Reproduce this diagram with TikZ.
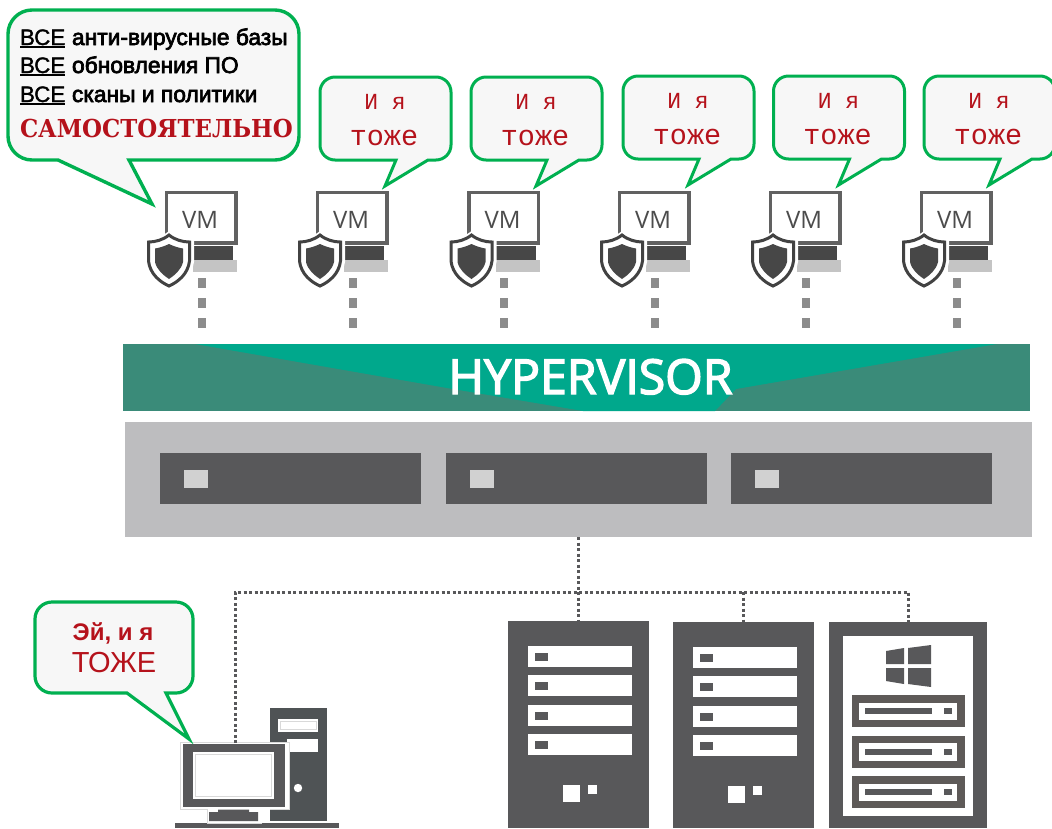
\documentclass[tikz,border=0pt]{standalone}
\usepackage{fontspec}
\setmainfont{Liberation Sans}
\newfontfamily\monof{Liberation Mono}
\newfontfamily\slabf{DejaVu Serif}
\newfontfamily\opens{Open Sans}
\newfontfamily\openb[FakeBold=3]{Open Sans}
\newfontfamily\semib[FakeBold=3]{Liberation Sans}
\newfontfamily\semia[FakeBold=1.5]{Liberation Sans}
\definecolor{bgreen}{HTML}{00B050}
\definecolor{bfill}{HTML}{F7F7F7}
\definecolor{bred}{HTML}{B5121B}
\definecolor{dgrey}{HTML}{58585A}
\definecolor{teal}{HTML}{00A88C}
\definecolor{dteal}{HTML}{3A8B79}
\definecolor{chas}{HTML}{BDBDBF}
\definecolor{rack}{HTML}{5E5A58}
\definecolor{towr}{HTML}{4F5355}
\newcommand\bubblepath[9]{%
 (#9,#4) -- ({#1+#5},#4) .. controls ({#1+.45*#5},#4) and (#1,{#4-.45*#5}) .. (#1,{#4-#5})
 -- (#1,{#2+#5}) .. controls (#1,{#2+.45*#5}) and ({#1+.45*#5},#2) .. ({#1+#5},#2)
 -- ({#3-#5},#2) .. controls ({#3-.45*#5},#2) and (#3,{#2+.45*#5}) .. (#3,{#2+#5})
 -- (#3,{#4-#5}) .. controls (#3,{#4-.45*#5}) and ({#3-.45*#5},#4) .. ({#3-#5},#4)
 -- (#6,#4) -- (#7,#8) -- cycle}
\tikzset{
  x=1pt,y=-1pt,
  bubble/.style={draw=bgreen,fill=bfill,line width=3pt,line join=miter},
  txt/.style={anchor=base,inner sep=0pt,outer sep=0pt},
  txtw/.style={anchor=base west,inner sep=0pt,outer sep=0pt},
  link/.style={draw=dgrey,line width=3pt,dash pattern=on 3pt off 2.5pt},
  vmlink/.style={draw=black!45,line width=8pt,dash pattern=on 10pt off 10pt},
  block/.style={draw=none,inner sep=0pt,outer sep=0pt,anchor=north west},
}
\begin{document}
\begin{tikzpicture}
\useasboundingbox (0,0) rectangle (1052,828);
\clip (0,0) rectangle (1052,828);
\fill[white] (0,0) rectangle (1052,828);

% hypervisor
\node[block,fill=dteal,minimum width=907pt,minimum height=67pt] (hyp) at (123,344) {};
\fill[teal] (195,344) -- (997,344) -- (736,389) -- (715,411) -- (583,411) -- (447,388) -- cycle;
\node[txt,text=white] (hyptext) at (590.5,394) {\fontsize{48.2}{49}\openb HYPERVISOR};

% chassis
\node[block,fill=chas,minimum width=907pt,minimum height=115pt] (chassis) at (125,422) {};
\foreach \i/\x in {1/160,2/446,3/731}{
  \node[block,fill=dgrey,minimum width=261pt,minimum height=51pt] (slot\i) at (\x,453) {};
  \fill[black!18] (\x+24,470) rectangle (\x+48,488);
}

% virtual machines
\foreach \i/\d in {1/0,2/151,3/302.5,4/453,5/604,6/755}{
\begin{scope}[shift={(\d,0)}]
  \draw[black!62,line width=3.6pt] (166.5,234) -- (166.5,192.5) -- (236,192.5) -- (236,243) -- (190,243);
  \node[txt,text=black!70] (vm\i) at (200,228) {\fontsize{24}{24}\opens VM};
  \fill[black!72] (193,246) rectangle (233,260);
  \fill[black!23] (193,260) rectangle (237,272);
  \fill[white] (169,231) .. controls (162,237) and (152,239) .. (144,239) -- (144,262) .. controls (146,277) and (158,285) .. (169,290)
     .. controls (180,285) and (192,277) .. (194,262) -- (194,239) .. controls (186,239) and (176,237) .. (169,231) -- cycle;
  \draw[black!74,line width=3pt] (169,235) .. controls (163,240) and (155,242) .. (148.5,242) -- (148.5,261) .. controls (150,274) and (160,282) .. (169,286)
     .. controls (178,282) and (188,274) .. (189.5,261) -- (189.5,242) .. controls (183,242) and (175,240) .. (169,235) -- cycle;
  \fill[black!72] (169,244) .. controls (165,246) and (159,248) .. (155,248.5) -- (155,262) .. controls (157,270) and (163,275) .. (169,279)
     .. controls (175,275) and (181,270) .. (183,262) -- (183,248.5) .. controls (179,248) and (173,246) .. (169,244) -- cycle;
  \coordinate (va\i) at (201.5,278);
  \coordinate (vb\i) at (201.5,328);
\end{scope}
\draw[vmlink] (va\i) -- (vb\i);
}

% big bubble
\draw[bubble,line width=3.4pt] \bubblepath{8}{10}{299}{160}{24}{129}{152}{204}{58};
\foreach \i/\y/\t in {1/45/{анти-вирусные базы},2/73/{обновления ПО},3/102/{сканы и политики}}{
  \node[txtw] (all\i) at (20,\y) {\fontsize{22.4}{24}\semia ВСЕ};
  \draw[line width=1.7pt] ([yshift=-1.8pt]all\i.base west) -- ([yshift=-1.8pt]all\i.base east);
  \node[txtw] (line\i) at (72,\y) {\fontsize{22.8}{24}\semib \t};
}
\node[txtw,text=bred] (self) at (20,137) {\scalebox{1}[1.08]{\fontsize{22.9}{32}\slabf\bfseries САМОСТОЯТЕЛЬНО}};

% small bubbles
\foreach \i/\x/\y in {2/320/77,3/471/77,4/623/76,5/773.5/76,6/924/76}{
\begin{scope}[shift={(\x,\y)}]
  \draw[bubble] \bubblepath{0}{0}{131}{83}{15}{108}{65}{109}{76};
  \node[txt,text=bred] (also\i) at (65,32) {\fontsize{23}{23}\monof И я};
  \node[txt,text=bred] (too\i) at (64,68) {\fontsize{28.5}{28}\monof тоже};
\end{scope}
}

% servers
\node[block,fill=dgrey,minimum width=141pt,minimum height=207pt] (srva) at (508,621) {};
\node[block,fill=dgrey,minimum width=141pt,minimum height=206pt] (srvb) at (673,622) {};
\node[block,fill=dgrey,minimum width=158pt,minimum height=206pt] (srvc) at (829,622) {};
\foreach \d/\e in {0/0,165/1}{
\begin{scope}[shift={(\d,\e)}]
  \foreach \y in {646,675.4,704.8,734.2}{
    \fill[white] (528,\y) rectangle (632,\y+21);
    \fill[dgrey] (535,\y+7) rectangle (548,\y+15);
  }
  \fill[white] (563,785) rectangle (580,802);
  \fill[white] (588,785) rectangle (597,794);
\end{scope}
}
\fill[white] (843,636) rectangle (973,816);
\fill[dgrey] (886,651) -- (904,648) -- (904,664) -- (886,664) -- cycle;
\fill[dgrey] (908,648) -- (931,645) -- (931,664) -- (908,664) -- cycle;
\fill[dgrey] (886,668) -- (904,668) -- (904,684) -- (886,681) -- cycle;
\fill[dgrey] (908,668) -- (931,668) -- (931,687) -- (908,684) -- cycle;
\foreach \y in {695,735.5,776}{
  \fill[rack] (852,\y) rectangle (965,\y+32);
  \fill[white] (859,\y+7.5) rectangle (957,\y+25);
  \fill[dgrey] (865,\y+13) rectangle (932,\y+19);
  \fill[dgrey] (944,\y+13) rectangle (952,\y+19);
}

% workstation
\fill[dgrey] (175,823) rectangle (339,828);
\node[block,fill=towr,minimum width=57pt,minimum height=113pt] (tower) at (270,708) {};
\fill[white] (278,719) rectangle (318,732);
\draw[black!15,line width=.7pt] (280.5,721.5) rectangle (316,729.5);
\fill[white] (287,739) rectangle (318,752);
\fill[white,draw=black!15,line width=.7pt] (180.5,742) -- (180.5,809) -- (207,809) -- (207,823) -- (261,823) -- (261,809) -- (289,809) -- (289,742) -- cycle;
\fill[white] (259,809) rectangle (270,823);
\fill[dgrey] (183,744) rectangle (285,807);
\fill[white] (193,752) rectangle (274,799);
\draw[black!15,line width=.8pt] (195.5,754.5) rectangle (271.5,796.5);
\fill[dgrey] (209,812) -- (218,812) -- (218,809.5) -- (249,809.5) -- (249,812) -- (258,812) -- (258,821) -- (209,821) -- cycle;
\fill[white] (298,788) circle (4.2);
\coordinate (pctop) at (235,743);

% connectors
\coordinate (ja) at (578,592);
\coordinate (jb) at (743,592);
\coordinate (jc) at (908.5,592);
\coordinate (jl) at (235,592);
\draw[link] (ja |- chassis.south) -- (ja |- srva.north);
\draw[link] (pctop) -- (jl) -- (jc) -- (jc |- srvc.north);
\draw[link] (jb) -- (jb |- srvb.north);

% workstation bubble
\draw[bubble,line width=3.2pt] \bubblepath{35}{602}{193}{693}{17}{166}{189}{739}{127};
\node[txt,text=bred] (hey) at (113,640) {\fontsize{24}{24}\selectfont\bfseries Эй, и я};
\node[txt,text=bred] (same) at (114,672) {\fontsize{29}{29}\selectfont ТОЖЕ};
\end{tikzpicture}
\end{document}
